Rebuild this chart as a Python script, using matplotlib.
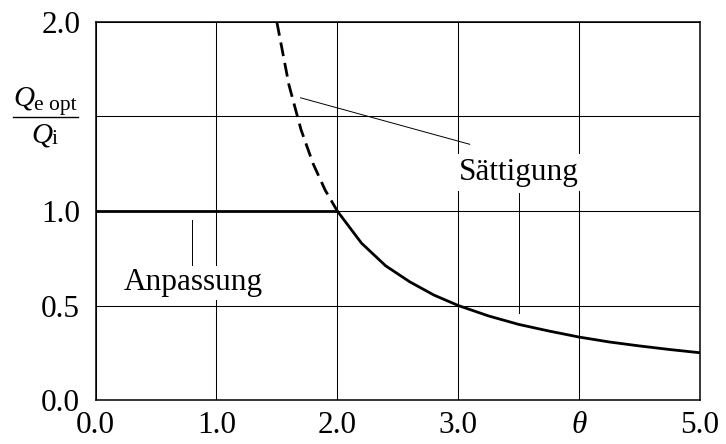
import matplotlib
matplotlib.use("Agg")
import matplotlib.pyplot as plt
from matplotlib.lines import Line2D

plt.rcParams['font.family'] = ['Liberation Serif', 'DejaVu Serif']

# Data
theta_match = [0.0, 2.0]
q_match = [1.0, 1.0]

theta_sat = [2.0, 2.2, 2.4, 2.6, 2.8, 3.0, 3.25, 3.5, 3.75, 4.0, 4.25, 4.5, 4.75, 5.0]
q_sat = [1.0, 0.83, 0.71, 0.625, 0.555, 0.5, 0.445, 0.40, 0.365, 0.333, 0.307, 0.286, 0.267, 0.25]

theta_dash = [1.5, 1.6, 1.7, 1.8, 1.9, 2.0]
q_dash = [2.0, 1.667, 1.43, 1.25, 1.11, 1.0]

x_ticks = [0, 1, 2, 3, 4, 5]
x_labels = ['0.0', '1.0', '2.0', '3.0', 'θ', '5.0']
y_ticks = [0.0, 0.5, 1.0, 1.5, 2.0]
y_labels = ['0.0', '0.5', '1.0', '', '2.0']

W, H = 726, 444
fig = plt.figure(figsize=(W / 100, H / 100), dpi=100)
ax = fig.add_axes([95.5 / W, 1 - 400 / H, (700 - 95.5) / W, (400 - 22) / H])
ax.set_xlim(0, 5)
ax.set_ylim(0, 2)

ax.set_xticks(x_ticks)
ax.set_xticklabels(x_labels)
ax.set_yticks(y_ticks)
ax.set_yticklabels(y_labels)
ax.get_xticklabels()[4].set_fontstyle('italic')
ax.tick_params(axis='both', length=0, labelsize=22.5, colors='black')
ax.tick_params(axis='x', pad=8)
ax.tick_params(axis='y', pad=11)
ax.grid(True, color='black', linewidth=0.75)
ax.set_axisbelow(True)
for s in ax.spines.values():
    s.set_linewidth(1.1)
    s.set_color('black')

ax.plot(theta_match, q_match, color='black', lw=2.0, solid_capstyle='butt', zorder=3)
ax.plot(theta_sat, q_sat, color='black', lw=2.0, zorder=3)
ax.plot(theta_dash, q_dash, color='black', lw=2.0, dashes=(5, 2.5), zorder=3)

# leader lines
ax.plot([1.696, 3.095], [1.599, 1.353], color='black', lw=0.7, zorder=4)
ax.plot([3.50, 3.50], [1.097, 0.46], color='black', lw=0.7, zorder=4)
ax.plot([0.80, 0.80], [0.952, 0.704], color='black', lw=0.7, zorder=4)

ax.text(3.504, 1.164, 'Sättigung', fontsize=22.5, ha='center', va='baseline', zorder=5,
        bbox=dict(boxstyle='square,pad=0.12', fc='white', ec='none'))
ax.text(0.806, 0.582, 'Anpassung', fontsize=22.5, ha='center', va='baseline', zorder=5,
        bbox=dict(boxstyle='square,pad=0.08', fc='white', ec='none'))

# y-axis fraction label
def fx(px):
    return px / W

def fy(py):
    return 1 - py / H

fig.text(fx(13), fy(106), 'Q', fontsize=21, fontstyle='italic', ha='left', va='baseline')
fig.text(fx(34), fy(110), 'e opt', fontsize=15.5, ha='left', va='baseline')
fig.add_artist(Line2D([fx(13), fx(78)], [fy(116.7), fy(116.7)], transform=fig.transFigure,
                      color='black', lw=1.0))
fig.text(fx(31), fy(142), 'Q', fontsize=21, fontstyle='italic', ha='left', va='baseline')
fig.text(fx(51), fy(144), 'i', fontsize=15.5, ha='left', va='baseline')

fig.savefig('out.png', dpi=100)
